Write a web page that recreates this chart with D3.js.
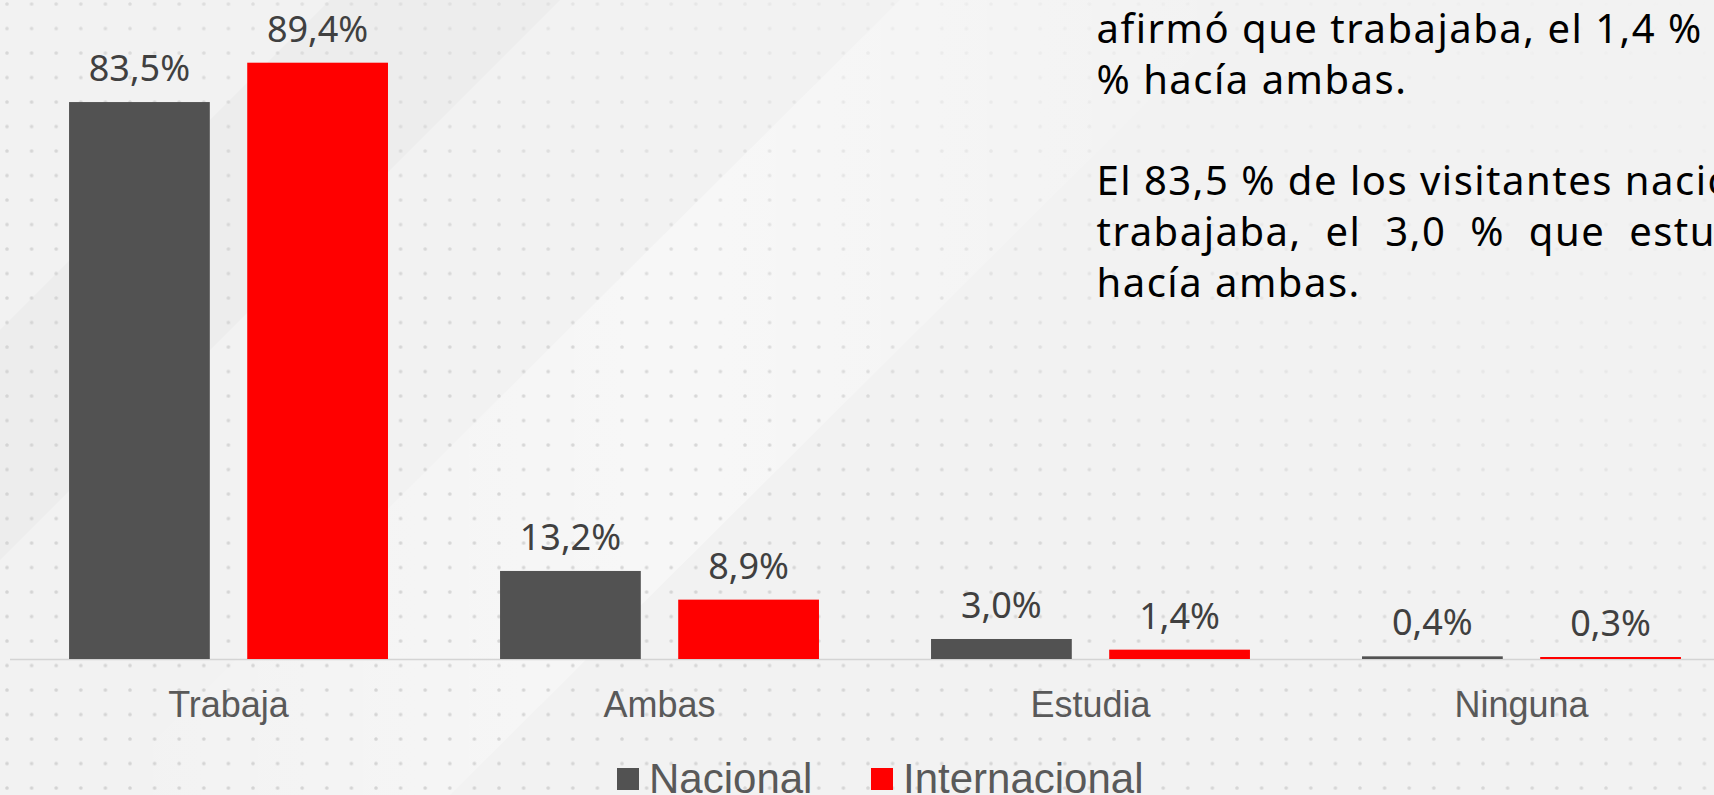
<!DOCTYPE html>
<html>
<head>
<meta charset="utf-8">
<script src="https://cdn.jsdelivr.net/npm/d3@7"></script>
<style>
  html, body { margin: 0; padding: 0; overflow: hidden; background: #f2f2f2; }
  svg { display: block; }
</style>
</head>
<body>
<div id="viz"></div>
<script>
// chart data
const categories = ["Trabaja", "Ambas", "Estudia", "Ninguna"];
const nacional = [83.5, 13.2, 3.0, 0.4];
const internacional = [89.4, 8.9, 1.4, 0.3];
const seriesNames = ["Nacional", "Internacional"];
const seriesColors = ["#525252", "#ff0000"];

// side text (clipped by the slide edge)
const noteLines = [
  "afirmó que trabajaba, el 1,4 % que estudiaba y el 8,9",
  "% hacía ambas.",
  "",
  "El 83,5 % de los visitantes nacionales afirmó que",
  "trabajaba, el 3,0 % que estudiaba y el 13,2 %",
  "hacía ambas."
];

const width = 1714;
const height = 795;
const baseY = 659;

const svg = d3.select("#viz")
  .append("svg")
  .attr("width", width)
  .attr("height", height);

// background
const defs = svg.append("defs");
const pat = defs.append("pattern")
  .attr("id", "dots")
  .attr("patternUnits", "userSpaceOnUse")
  .attr("x", 7).attr("y", 4)
  .attr("width", 24.6).attr("height", 24.5);
[[0, 0], [24.6, 0], [0, 24.5], [24.6, 24.5]].forEach(p => {
  pat.append("circle").attr("cx", p[0]).attr("cy", p[1]).attr("r", 1.8).attr("fill", "#d3d3d3");
});

const fade = defs.append("linearGradient")
  .attr("id", "fade").attr("x1", 0).attr("y1", 1).attr("x2", 1).attr("y2", 0);
fade.append("stop").attr("offset", 0).attr("stop-color", "#fff").attr("stop-opacity", 1);
fade.append("stop").attr("offset", 0.45).attr("stop-color", "#fff").attr("stop-opacity", 0.9);
fade.append("stop").attr("offset", 0.75).attr("stop-color", "#fff").attr("stop-opacity", 0.25);
fade.append("stop").attr("offset", 1).attr("stop-color", "#fff").attr("stop-opacity", 0);
defs.append("mask").attr("id", "dotmask")
  .append("rect").attr("width", width).attr("height", height).attr("fill", "url(#fade)");

const streak = defs.append("linearGradient")
  .attr("id", "streak").attr("x1", 0).attr("y1", 0).attr("x2", 1).attr("y2", 0);
streak.append("stop").attr("offset", 0).attr("stop-color", "#ffffff").attr("stop-opacity", 0);
streak.append("stop").attr("offset", 0.5).attr("stop-color", "#ffffff").attr("stop-opacity", 0.7);
streak.append("stop").attr("offset", 1).attr("stop-color", "#ffffff").attr("stop-opacity", 0);

svg.append("rect").attr("width", width).attr("height", height).attr("fill", "#f2f2f2");
svg.append("path")
  .attr("d", "M330,0 L560,0 L0,560 L0,330 Z")
  .attr("fill", "#e9e9e9").attr("opacity", 0.6);
svg.append("path")
  .attr("d", "M900,0 L1250,0 L450,795 L100,795 Z")
  .attr("fill", "url(#streak)").attr("opacity", 0.6);
svg.append("rect").attr("width", width).attr("height", height)
  .attr("fill", "url(#dots)").attr("mask", "url(#dotmask)");

// scales
const y = d3.scaleLinear().domain([0, 100]).range([baseY, baseY - 667]);
const x0 = d3.scaleBand().domain(categories).range([-43, 1793]).padding(0.26);
const x1 = d3.scaleBand().domain(seriesNames).range([0, x0.bandwidth()]).paddingInner(0.21);
const color = d3.scaleOrdinal().domain(seriesNames).range(seriesColors);
const fmt = v => d3.format(".1f")(v).replace(".", ",") + "%";

const rows = categories.map((c, i) => ({
  cat: c,
  vals: [
    { s: seriesNames[0], v: nacional[i] },
    { s: seriesNames[1], v: internacional[i] }
  ]
}));

// axis line
svg.append("line")
  .attr("x1", 10).attr("x2", width)
  .attr("y1", baseY + 0.5).attr("y2", baseY + 0.5)
  .attr("stroke", "#d4d4d4").attr("stroke-width", 1.5);

const groups = svg.selectAll(".grp")
  .data(rows)
  .enter().append("g")
  .attr("class", "grp")
  .attr("transform", d => "translate(" + x0(d.cat) + ",0)");

groups.selectAll("rect")
  .data(d => d.vals)
  .enter().append("rect")
  .attr("x", d => x1(d.s))
  .attr("y", d => y(d.v))
  .attr("width", x1.bandwidth())
  .attr("height", d => baseY - y(d.v))
  .attr("fill", d => color(d.s));

groups.selectAll("text")
  .data(d => d.vals)
  .enter().append("text")
  .attr("x", d => x1(d.s) + x1.bandwidth() / 2)
  .attr("y", d => y(d.v) - 21)
  .attr("text-anchor", "middle")
  .style("font-family", "'Noto Sans', sans-serif")
  .style("font-size", "36px")
  .attr("fill", "#404040")
  .text(d => fmt(d.v));

// category axis
const xAxis = svg.append("g")
  .attr("transform", "translate(0," + baseY + ")")
  .call(d3.axisBottom(x0).tickSize(0).tickPadding(32));
xAxis.select(".domain").remove();
xAxis.selectAll("text")
  .style("font-family", "'Liberation Sans', Arial, sans-serif")
  .style("font-size", "36px")
  .attr("fill", "#595959");

// legend
const legend = svg.append("g").attr("transform", "translate(617,768)");
const legendX = [0, 254];
seriesNames.forEach((s, i) => {
  legend.append("rect")
    .attr("x", legendX[i]).attr("y", 0)
    .attr("width", 22).attr("height", 22)
    .attr("fill", seriesColors[i]);
  legend.append("text")
    .attr("x", legendX[i] + 32).attr("y", 25)
    .style("font-family", "'Liberation Sans', Arial, sans-serif")
    .style("font-size", "42px")
    .attr("fill", "#595959")
    .text(s);
});

// note text
const note = svg.append("g")
  .style("font-family", "'Noto Sans', sans-serif")
  .style("font-size", "40px")
  .style("letter-spacing", "1.5px")
  .attr("fill", "#000");
note.selectAll("text")
  .data(noteLines)
  .enter().append("text")
  .attr("x", 1096.5)
  .attr("y", (d, i) => 42.7 + i * 50.8)
  .style("word-spacing", (d, i) => i === 4 ? "12px" : "0px")
  .text(d => d);
</script>
</body>
</html>
